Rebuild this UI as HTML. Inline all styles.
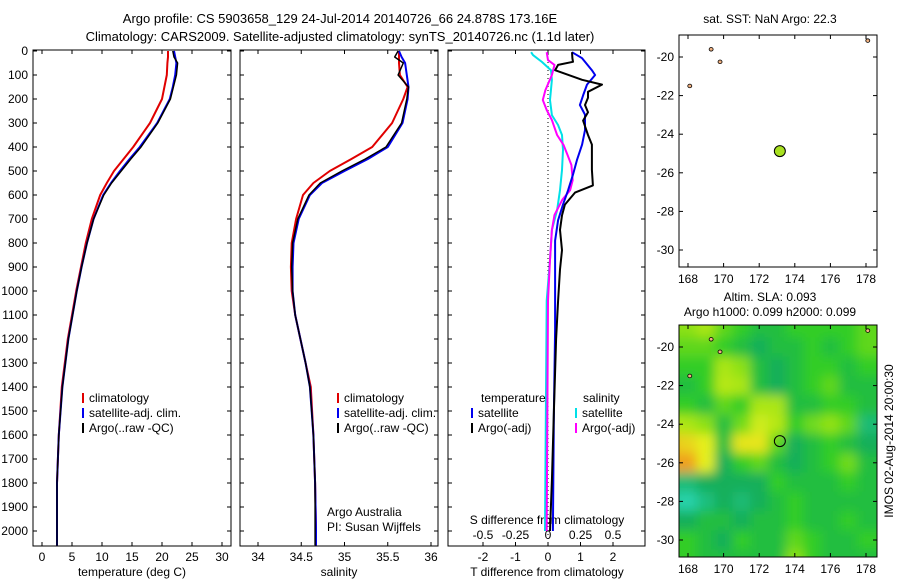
<!DOCTYPE html>
<html><head><meta charset="utf-8"><style>
html,body{margin:0;padding:0;background:#fff;}
svg{display:block;font-family:"Liberation Sans",sans-serif;}
text{font-size:12px;fill:#000;}
</style></head><body>
<svg id="fig" width="900" height="580" viewBox="0 0 900 580">
<defs>
<filter id="blur" x="-20%" y="-20%" width="140%" height="140%"><feGaussianBlur stdDeviation="5.5"/></filter>
<clipPath id="clipMap2"><rect x="679" y="325" width="198" height="232"/></clipPath>
</defs>
<text x="340" y="23" text-anchor="middle" style="font-size:13px">Argo profile: CS 5903658_129 24-Jul-2014 20140726_66 24.878S 173.16E</text>
<text x="340" y="41" text-anchor="middle" style="font-size:13px">Climatology: CARS2009. Satellite-adjusted climatology: synTS_20140726.nc (1.1d later)</text>
<g id="plots"></g>
<text x="770" y="23" text-anchor="middle">sat. SST: NaN Argo: 22.3</text>
<text x="770" y="301" text-anchor="middle">Altim. SLA: 0.093</text>
<text x="770" y="316" text-anchor="middle">Argo h1000: 0.099 h2000: 0.099</text>
<text transform="translate(893,441) rotate(-90)" text-anchor="middle">IMOS 02-Aug-2014 20:00:30</text>
</svg>
<script>
// ---- profile data (pressure in dbar) ----
const pres = [0,25,50,100,150,200,300,400,450,500,550,600,700,800,900,1000,1100,1200,1300,1400,1600,1800,2000,2060];
const tempClim = [21.0,21.0,20.9,20.8,20.4,20.0,18.0,15.2,13.6,12.0,10.8,9.7,8.3,7.3,6.5,5.7,5.0,4.3,3.8,3.3,2.8,2.5,2.5,2.5];
const tempSat  = [22.0,22.2,22.4,22.2,21.8,21.3,19.2,16.3,14.6,13.0,11.5,10.2,8.6,7.5,6.6,5.8,5.1,4.4,3.9,3.4,2.8,2.5,2.5,2.5];
const tempArgo = [21.8,22.0,22.6,22.4,21.9,21.4,19.3,16.5,14.8,13.2,11.6,10.3,8.6,7.5,6.6,5.8,5.1,4.4,3.9,3.4,2.8,2.5,2.5,2.5];
const salClim = [35.63,35.63,35.63,35.64,35.73,35.68,35.55,35.32,35.08,34.83,34.64,34.52,34.44,34.39,34.38,34.39,34.43,34.49,34.55,34.61,34.64,34.66,34.67,34.67];
const salSat  = [35.63,35.66,35.70,35.72,35.74,35.73,35.67,35.50,35.27,35.00,34.74,34.60,34.47,34.41,34.40,34.40,34.43,34.49,34.55,34.60,34.64,34.66,34.67,34.67];
const salArgo = [35.62,35.58,35.68,35.62,35.74,35.72,35.66,35.48,35.24,34.97,34.72,34.59,34.46,34.40,34.39,34.40,34.43,34.49,34.55,34.60,34.64,34.66,34.66,34.66];
// differences (pressure in dbar)
const dTArgoPres = [5,30,45,58,80,120,140,170,195,225,255,290,350,390,435,495,560,590,640,685,745,830,910,1040,1200,1500,1790,2000];
const dTArgo = [0.74,0.75,0.77,0.31,0.22,1.05,1.66,1.23,1.23,1.14,1.23,1.08,1.23,1.35,1.35,1.35,1.38,0.83,0.52,0.43,0.37,0.43,0.37,0.31,0.25,0.18,0.12,0.06];
const dTSatPres = [5,30,80,100,140,185,225,265,330,390,455,515,580,640,705,790,955,1160,1500,2000];
const dTSat = [0.74,1.05,1.35,1.45,1.2,1.08,0.98,1.14,1.14,1.05,0.89,0.77,0.62,0.46,0.31,0.22,0.22,0.22,0.18,0.15];
const dSArgoPres = [5,38,58,100,163,204,246,288,350,392,433,475,538,580,620,683,746,870,1040,2000];
const dSArgo = [-0.01,0,0.05,0.03,-0.02,-0.04,-0.01,0.03,0.07,0.12,0.15,0.18,0.19,0.17,0.11,0.05,0.03,0.015,0,-0.01];
const dSSatPres = [5,17,46,80,120,204,267,308,350,412,496,580,663,746,870,1040,2000];
const dSSat = [-0.13,-0.115,-0.046,0.023,0.03,0.015,0.03,0.077,0.108,0.115,0.108,0.092,0.07,0.03,0.015,-0.01,-0.023];
// ticks
const presTicks = [0,100,200,300,400,500,600,700,800,900,1000,1100,1200,1300,1400,1500,1600,1700,1800,1900,2000];
const tempTicks = [0,5,10,15,20,25,30];
const salTicks = [34,34.5,35,35.5,36];
const salTickLabels = ["34","34.5","35","35.5","36"];
const dTTicks = [-2,-1,0,1,2];
const dSTickLabels = ["-0.5","-0.25","0","0.25","0.5"];
const lonTicks = [168,170,172,174,176,178];
const latTicks = [-20,-22,-24,-26,-28,-30];
// SLA grid, rows lat -19..-31, cols lon 167..179 (normalised 0..1)
const slaLats = [-19,-20,-21,-22,-23,-24,-25,-26,-27,-28,-29,-30,-31];
const slaLons = [167,168,169,170,171,172,173,174,175,176,177,178,179];
const slaRows = [
[0.65,0.65,0.7,0.6,0.55,0.5,0.5,0.55,0.55,0.55,0.55,0.6,0.6],
[0.6,0.6,0.6,0.55,0.5,0.45,0.5,0.5,0.55,0.5,0.55,0.6,0.6],
[0.55,0.55,0.55,0.7,0.65,0.5,0.45,0.5,0.55,0.55,0.5,0.55,0.55],
[0.5,0.5,0.55,0.72,0.7,0.5,0.45,0.5,0.55,0.6,0.5,0.5,0.5],
[0.55,0.55,0.5,0.6,0.55,0.7,0.7,0.5,0.5,0.55,0.55,0.5,0.5],
[0.72,0.7,0.65,0.5,0.62,0.76,0.72,0.55,0.62,0.66,0.6,0.4,0.4],
[0.88,0.85,0.8,0.5,0.82,0.82,0.6,0.45,0.5,0.55,0.5,0.45,0.45],
[0.95,0.95,0.8,0.45,0.55,0.6,0.5,0.45,0.5,0.55,0.62,0.5,0.5],
[0.4,0.4,0.45,0.45,0.45,0.45,0.55,0.5,0.5,0.5,0.55,0.5,0.5],
[0.32,0.3,0.38,0.45,0.4,0.45,0.5,0.55,0.5,0.5,0.5,0.5,0.5],
[0.45,0.45,0.5,0.5,0.45,0.5,0.5,0.55,0.5,0.5,0.55,0.5,0.5],
[0.55,0.55,0.5,0.45,0.55,0.5,0.5,0.6,0.55,0.5,0.5,0.55,0.55],
[0.55,0.55,0.5,0.5,0.5,0.5,0.5,0.65,0.55,0.5,0.5,0.5,0.5]];
const floatLon = 173.16, floatLat = -24.878;

const NS="http://www.w3.org/2000/svg";
const root=document.getElementById('plots');
function mk(tag,attrs,parent){const e=document.createElementNS(NS,tag);for(const k in attrs)e.setAttribute(k,attrs[k]);(parent||root).appendChild(e);return e;}
function txt(x,y,s,anchor,parent){const t=mk('text',{x:x,y:y,'text-anchor':anchor||'middle'},parent);t.textContent=s;return t;}

const TOP=50,BOT=546;
const yP=p=>51+0.24*p;
const xT=v=>42+6*v;
const xS=v=>258+86.5*(v-34);
const xdT=v=>548+32.5*v;
const xdS=v=>548+130*v;

function frame(x0,x1,name){
  const r=mk('rect',{x:x0,y:TOP,width:x1-x0,height:BOT-TOP,fill:'none',stroke:'#000','stroke-width':1});
  
  
}
function line(xs,ys,color,w,name){
  let d='';for(let i=0;i<xs.length;i++)d+=(i?'L':'M')+xs[i].toFixed(1)+','+ys[i].toFixed(1);
  const p=mk('path',{d:d,fill:'none',stroke:color,'stroke-width':w,'stroke-linejoin':'round'});
  
  
}
const panels=[[33,231,'temperature-axes'],[240,438,'salinity-axes'],[448,645,'difference-axes']];
panels.forEach(pn=>{
  frame(pn[0],pn[1],pn[2]);
  presTicks.forEach(p=>{mk('line',{x1:pn[0],x2:pn[0]+4,y1:yP(p),y2:yP(p),stroke:'#000'});mk('line',{x1:pn[1],x2:pn[1]-4,y1:yP(p),y2:yP(p),stroke:'#000'});});
});
presTicks.forEach(p=>{const t=txt(28,yP(p)+4,String(p),'end');});
// temperature
tempTicks.forEach(v=>{mk('line',{x1:xT(v),x2:xT(v),y1:BOT,y2:BOT-4,stroke:'#000'});mk('line',{x1:xT(v),x2:xT(v),y1:TOP,y2:TOP+4,stroke:'#000'});const t=txt(xT(v),561,String(v));});
let t=txt(132,576,'temperature (deg C)');
const py=pres.map(yP);
line(tempClim.map(xT),py,'#e00000',2,'temp-climatology-line');
line(tempSat.map(xT),py,'#0000ee',2,'temp-satellite-line');
line(tempArgo.map(xT),py,'#000',1.5,'temp-argo-line');
// salinity
salTicks.forEach((v,i)=>{mk('line',{x1:xS(v),x2:xS(v),y1:BOT,y2:BOT-4,stroke:'#000'});mk('line',{x1:xS(v),x2:xS(v),y1:TOP,y2:TOP+4,stroke:'#000'});const t=txt(xS(v),561,salTickLabels[i]);});
t=txt(339,576,'salinity');
line(salClim.map(xS),py,'#e00000',2,'sal-climatology-line');
line(salSat.map(xS),py,'#0000ee',2,'sal-satellite-line');
line(salArgo.map(xS),py,'#000',1.5,'sal-argo-line');
// differences
mk('line',{x1:548,x2:548,y1:TOP,y2:BOT,stroke:'#000','stroke-dasharray':'1,3'});
dTTicks.forEach((v,i)=>{mk('line',{x1:xdT(v),x2:xdT(v),y1:BOT,y2:BOT-4,stroke:'#000'});mk('line',{x1:xdT(v),x2:xdT(v),y1:TOP,y2:TOP+4,stroke:'#000'});
 let a=txt(xdT(v),561,String(v));
 let b=txt(xdT(v),539,dSTickLabels[i]);});
t=txt(547,524,'S difference from climatology');
t=txt(547,576,'T difference from climatology');
line(dSSat.map(xdS),dSSatPres.map(yP),'#00e0e8',2,'s-diff-satellite-line');
line(dSArgo.map(xdS),dSArgoPres.map(yP),'#ff00ff',2,'s-diff-argo-line');
line(dTSat.map(xdT),dTSatPres.map(yP),'#0000ee',2,'t-diff-satellite-line');
line(dTArgo.map(xdT),dTArgoPres.map(yP),'#000',2,'t-diff-argo-line');
// legends
function legend(x,y,label,color,name){mk('line',{x1:x,x2:x,y1:y-9,y2:y+1,stroke:color,'stroke-width':2});const l=txt(x+6,y,label,'start');}
[[83,'temp'],[338,'sal']].forEach(([x,n])=>{legend(x,402,'climatology','#e00000',n+'-legend-climatology');legend(x,417,'satellite-adj. clim.','#0000ee',n+'-legend-satellite');legend(x,432,'Argo(..raw -QC)','#000',n+'-legend-argo');});
t=txt(327,516,'Argo Australia','start');
t=txt(327,531,'PI: Susan Wijffels','start');
t=txt(481,402,'temperature','start');
t=txt(583,402,'salinity','start');
legend(472,417,'satellite','#0000ee','legend-t-satellite');
legend(472,432,'Argo(-adj)','#000','legend-t-argo');
legend(576,417,'satellite','#00e0e8','legend-s-satellite');
legend(576,432,'Argo(-adj)','#ff00ff','legend-s-argo');

// maps
const mx=lon=>688+17.8*(lon-168);
function mapAxes(y0,y1,ymap,name){
  const r=mk('rect',{x:679,y:y0,width:198,height:y1-y0,fill:'none',stroke:'#000'});
  
  lonTicks.forEach(v=>{mk('line',{x1:mx(v),x2:mx(v),y1:y1,y2:y1-4,stroke:'#000'});mk('line',{x1:mx(v),x2:mx(v),y1:y0,y2:y0+4,stroke:'#000'});const a=txt(mx(v),y1+16,String(v));});
  latTicks.forEach(v=>{mk('line',{x1:679,x2:683,y1:ymap(v),y2:ymap(v),stroke:'#000'});mk('line',{x1:877,x2:873,y1:ymap(v),y2:ymap(v),stroke:'#000'});const a=txt(674,ymap(v)+4,String(v),'end');});
}
const my1=lat=>57+19.3*(-20-lat);
const my2=lat=>347+19.3*(-20-lat);
function cmap(v){
  const stops=[[0.3,[40,210,170]],[0.45,[20,175,90]],[0.55,[50,205,40]],[0.65,[140,225,20]],[0.8,[230,240,30]],[0.95,[240,160,30]]];
  if(v<=stops[0][0])return 'rgb('+stops[0][1]+')';
  for(let i=1;i<stops.length;i++){if(v<=stops[i][0]){const a=stops[i-1],b=stops[i],f=(v-a[0])/(b[0]-a[0]);return 'rgb('+a[1].map((c,k)=>Math.round(c+f*(b[1][k]-c))).join(',')+')';}}
  return 'rgb('+stops[stops.length-1][1]+')';
}
mk('rect',{x:679,y:325,width:198,height:232,fill:cmap(0.5)});
const hg=mk('g',{'clip-path':'url(#clipMap2)'});
const hb=mk('g',{filter:'url(#blur)'},hg);
const nR=slaRows.length, nC=slaLons.length;
slaRows.forEach((row,i)=>row.forEach((v,j)=>{
  let x0=mx(slaLons[j]-0.5), x1=mx(slaLons[j]+0.5)+0.6;
  let y0=my2(slaLats[i]+0.5), y1=my2(slaLats[i]-0.5)+0.6;
  if(j===0)x0-=30; if(j===nC-1)x1+=30; if(i===0)y0-=30; if(i===nR-1)y1+=30;
  const c=mk('rect',{x:x0,y:y0,width:x1-x0,height:y1-y0,fill:cmap(v)},hb);
  
  
}));
mapAxes(35,267,my1,'sst-map-axes');
mapAxes(325,557,my2,'sla-map-axes');
[[169.3,-19.6],[169.8,-20.25],[168.1,-21.5],[178.1,-19.15]].forEach(([lo,la])=>{
  mk('ellipse',{cx:mx(lo),cy:my1(la),rx:2,ry:1.8,fill:'#f0b080',stroke:'#000','stroke-width':0.8});
  mk('ellipse',{cx:mx(lo),cy:my2(la),rx:2,ry:1.8,fill:'#f0b080',stroke:'#000','stroke-width':0.8});
});
let fp=mk('circle',{cx:mx(floatLon),cy:my1(floatLat),r:5.5,fill:'#a8e020',stroke:'#000','stroke-width':1});

fp=mk('circle',{cx:mx(floatLon),cy:my2(floatLat),r:5.5,fill:'none',stroke:'#000','stroke-width':1});

</script>
</body></html>
